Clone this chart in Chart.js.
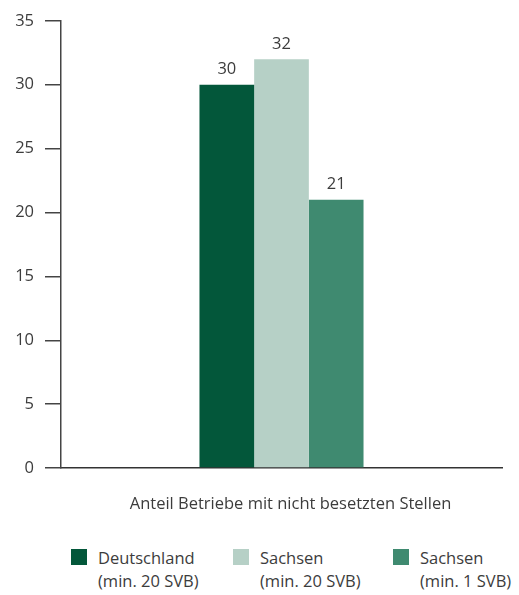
<!DOCTYPE html>
<html>
<head>
<meta charset="utf-8">
<script src="https://cdn.jsdelivr.net/npm/chart.js@4"></script>
<style>
  body { margin: 0; background: #fff; font-family: "Open Sans", sans-serif; color: #3c3c3c; }
  #wrap { position: relative; width: 519px; height: 595px; }
  #chart-box { position: absolute; left: 0; top: 0; width: 519px; height: 525px; }
  .leg { position: absolute; top: 546px; font-size: 16.5px; line-height: 23px; }
  .leg span.box { position: absolute; left: 0; top: 3px; width: 16px; height: 16px; }
  .leg div { margin-left: 27px; white-space: nowrap; }
</style>
</head>
<body>
<div id="wrap">
  <div id="chart-box"><canvas id="chart"></canvas></div>
  <div id="legend"></div>
</div>
<script>
const categories = ["Anteil Betriebe mit nicht besetzten Stellen"];
const seriesNames = [["Deutschland", "(min. 20 SVB)"], ["Sachsen", "(min. 20 SVB)"], ["Sachsen", "(min. 1 SVB)"]];
const seriesValues = [[30], [32], [21]];
const seriesColors = ["#03573a", "#b6d0c6", "#3f8a70"];
const yTicks = [0, 5, 10, 15, 20, 25, 30, 35];

const valueLabels = {
  id: "valueLabels",
  afterDatasetsDraw(chart) {
    const ctx = chart.ctx;
    ctx.save();
    ctx.font = "16.5px 'Open Sans', sans-serif";
    ctx.fillStyle = "#3c3c3c";
    ctx.textAlign = "center";
    ctx.textBaseline = "bottom";
    chart.data.datasets.forEach((ds, i) => {
      chart.getDatasetMeta(i).data.forEach((bar, j) => {
        ctx.fillText(ds.data[j], bar.x, bar.y - 7);
      });
    });
    ctx.restore();
  }
};

new Chart(document.getElementById("chart"), {
  type: "bar",
  data: {
    labels: categories,
    datasets: seriesValues.map((v, i) => ({
      label: seriesNames[i].join(" "),
      data: v,
      backgroundColor: seriesColors[i],
      barPercentage: 1,
      categoryPercentage: 0.372
    }))
  },
  options: {
    responsive: true,
    maintainAspectRatio: false,
    animation: false,
    layout: { padding: { top: 17, right: 17, left: 0, bottom: 0 } },
    plugins: { legend: { display: false }, tooltip: { enabled: false } },
    scales: {
      x: {
        grid: { display: false, drawTicks: false },
        border: { color: "#333", width: 1.5 },
        ticks: { color: "#3c3c3c", padding: 26, labelOffset: 9, font: { family: "'Open Sans', sans-serif", size: 16.5 } },
        afterFit(scale) { scale.height = 525 - 468; }
      },
      y: {
        min: 0,
        max: 35,
        afterBuildTicks(scale) { scale.ticks = yTicks.map(v => ({ value: v })); },
        grid: { drawOnChartArea: false, tickLength: 16, color: "#444", lineWidth: 1.5 },
        border: { color: "#444", width: 1.5 },
        ticks: { color: "#3c3c3c", padding: 11, font: { family: "'Open Sans', sans-serif", size: 16.5 } },
        afterFit(scale) { scale.width = 61; }
      }
    }
  },
  plugins: [valueLabels]
});

const legendLeft = [71, 233, 393];
const legend = document.getElementById("legend");
seriesNames.forEach((name, i) => {
  const el = document.createElement("div");
  el.className = "leg";
  el.style.left = legendLeft[i] + "px";
  el.innerHTML = '<span class="box" style="background:' + seriesColors[i] + '"></span><div>' + name[0] + '<br>' + name[1] + '</div>';
  legend.appendChild(el);
});
</script>
</body>
</html>
